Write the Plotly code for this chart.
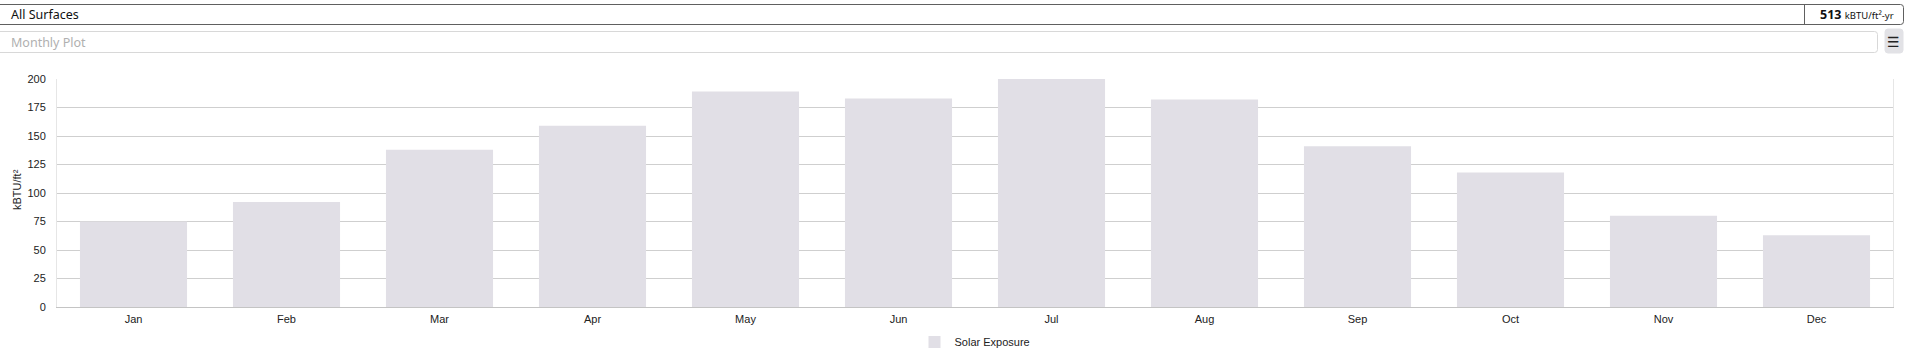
import plotly.graph_objects as go

months = ["Jan", "Feb", "Mar", "Apr", "May", "Jun", "Jul", "Aug", "Sep", "Oct", "Nov", "Dec"]
solar_exposure = [75, 92, 138, 159, 189, 183, 200, 182, 141, 118, 80, 63]
series_name = "Solar Exposure"
y_ticks = [0, 25, 50, 75, 100, 125, 150, 175, 200]
y_title = "kBTU/ft²"
header_title = "All Surfaces"
header_total = "513"
header_unit = "kBTU/ft²-yr"
plot_selector = "Monthly Plot"

W, H = 1908, 358
L, R, T, B = 57, 15, 79, 51
PW, PH = W - L - R, H - T - B


def px(x):
    return (x - L) / PW


def py(y):
    return (H - B - y) / PH


def rrect(x0, y0, x1, y1, r):
    pts = [
        f"M{px(x0 + r)},{py(y0)}",
        f"L{px(x1 - r)},{py(y0)}",
        f"Q{px(x1)},{py(y0)} {px(x1)},{py(y0 + r)}",
        f"L{px(x1)},{py(y1 - r)}",
        f"Q{px(x1)},{py(y1)} {px(x1 - r)},{py(y1)}",
        f"L{px(x0 + r)},{py(y1)}",
        f"Q{px(x0)},{py(y1)} {px(x0)},{py(y1 - r)}",
        f"L{px(x0)},{py(y0 + r)}",
        f"Q{px(x0)},{py(y0)} {px(x0 + r)},{py(y0)}",
        "Z",
    ]
    return " ".join(pts)


fig = go.Figure()
fig.add_trace(go.Bar(
    x=months, y=solar_exposure, name=series_name,
    marker=dict(color="#e1dfe6", line=dict(width=0)),
    showlegend=True,
))

shapes = [
    dict(type="path", xref="paper", yref="paper", path=rrect(-3, 4.5, 1903.5, 24.5, 3),
         line=dict(color="#606060", width=1), fillcolor="white", layer="below"),
    dict(type="line", xref="paper", yref="paper", x0=px(1804.5), x1=px(1804.5), y0=py(4.5), y1=py(24.5),
         line=dict(color="#606060", width=1)),
    dict(type="path", xref="paper", yref="paper", path=rrect(-3, 31.5, 1877.5, 52.5, 3),
         line=dict(color="#d8d8d8", width=1), fillcolor="white", layer="below"),
    dict(type="path", xref="paper", yref="paper", path=rrect(1885, 29, 1903, 53, 3),
         line=dict(color="#e2e2e6", width=1), fillcolor="#e2e2e6", layer="below"),
]

annotations = [
    dict(text=header_title, x=px(9), y=py(14.5), xref="paper", yref="paper", xanchor="left", yanchor="middle",
         showarrow=False, font=dict(family="Noto Sans", size=12.5, color="#111")),
    dict(text=f"<b>{header_total}</b> <span style='font-size:9.5px'>{header_unit}</span>",
         x=px(1818), y=py(14.5), xref="paper", yref="paper", xanchor="left", yanchor="middle",
         showarrow=False, font=dict(family="Noto Sans", size=12.5, color="#111")),
    dict(text=plot_selector, x=px(9), y=py(42), xref="paper", yref="paper", xanchor="left", yanchor="middle",
         showarrow=False, font=dict(family="Noto Sans", size=12.5, color="#b0b0b0")),
    dict(text="☰", x=px(1894), y=py(41.5), xref="paper", yref="paper", xanchor="center", yanchor="middle",
         showarrow=False, font=dict(family="DejaVu Sans", size=14, color="#222")),
    dict(text=y_title, x=px(17), y=py(190), xref="paper", yref="paper", xanchor="center", yanchor="middle",
         textangle=-90, showarrow=False, font=dict(family="Liberation Sans", size=11, color="#222")),
]

fig.update_layout(
    width=W, height=H,
    margin=dict(l=L, r=R, t=T, b=B, pad=0, autoexpand=False),
    paper_bgcolor="white", plot_bgcolor="white",
    bargap=0.3,
    font=dict(family="Liberation Sans", size=11, color="#222"),
    shapes=shapes, annotations=annotations,
    legend=dict(orientation="h", x=0.5, xanchor="center", y=py(342), yanchor="middle",
                font=dict(family="Liberation Sans", size=11, color="#222"),
                itemsizing="constant", itemwidth=30),
    xaxis=dict(showgrid=False, showline=True, linecolor="#c4c4c4", linewidth=1,
               ticks="outside", ticklen=2, tickcolor="rgba(0,0,0,0)", automargin=False,
               tickfont=dict(family="Liberation Sans", size=11, color="#222")),
    yaxis=dict(range=[0, 200], tickvals=y_ticks, showgrid=True, gridcolor="#cfcfcf", gridwidth=1,
               zeroline=False, showline=True, linecolor="#e6e6e6", mirror=True, automargin=False,
               ticks="outside", ticklen=8, tickcolor="rgba(0,0,0,0)",
               tickfont=dict(family="Liberation Sans", size=11, color="#222")),
)

fig.write_html("out.html", config={"displayModeBar": False},
               post_script="document.body.style.margin='0';document.body.style.overflow='hidden';")
